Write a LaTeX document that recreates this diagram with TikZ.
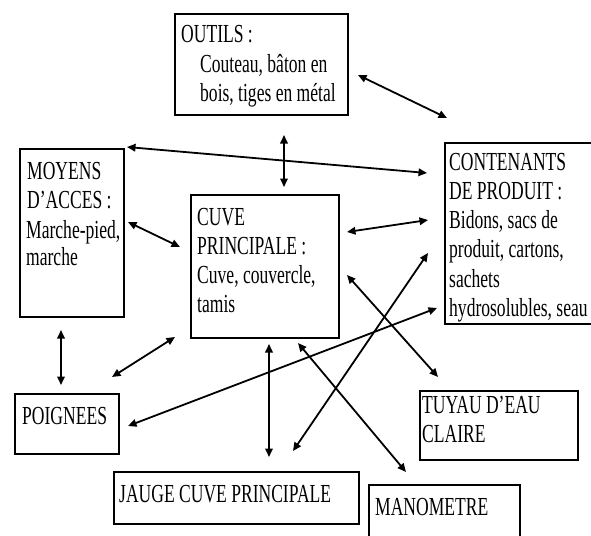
\documentclass[tikz,border=0pt]{standalone}
\usepackage{fontspec}
\setmainfont{Liberation Serif}[FakeStretch=0.675]
\usetikzlibrary{arrows.meta}
\begin{document}
\begin{tikzpicture}[x=1pt,y=-1pt,
  box/.style={draw=black,line width=1.6pt,rectangle,inner sep=0pt,anchor=north west},
  txt/.style={anchor=base west,inner sep=0pt,font=\fontsize{26}{29}\selectfont},
  arr/.style={line width=1.8pt,{Triangle[length=8.5pt,width=7.5pt]}-{Triangle[length=8.5pt,width=7.5pt]}}]
\useasboundingbox (0,0) rectangle (591,535);
\clip (0,0) rectangle (591,535);
\fill[white] (0,0) rectangle (591,535);
% boxes
\node[box,minimum width=173pt,minimum height=101pt] (outils) at (174,13) {};
\node[box,minimum width=104pt,minimum height=168pt] (moyens) at (19,148) {};
\node[box,minimum width=148pt,minimum height=143pt] (cuve) at (190,194) {};
\node[box,minimum width=147pt,minimum height=181pt] (cont) at (444,142) {};
\node[box,minimum width=104pt,minimum height=60pt] (poig) at (14,393) {};
\node[box,minimum width=245pt,minimum height=52pt] (jauge) at (113,471) {};
\node[box,minimum width=158pt,minimum height=69pt] (tuyau) at (419,390) {};
\node[box,minimum width=151pt,minimum height=80pt] (mano) at (368,484) {};
% texts
\node[txt] (t1) at (181,43) {OUTILS :};
\node[txt] (t2) at (200,72) {Couteau, bâton en};
\node[txt] (t3) at (200,101) {bois, tiges en métal};
\node[txt] (m1) at (27,179) {MOYENS};
\node[txt] (m2) at (27,208) {D’ACCES :};
\node[txt] (m3) at (26,238) {Marche-pied,};
\node[txt] (m4) at (26,265) {marche};
\node[txt] (c1) at (197,225) {CUVE};
\node[txt] (c2) at (197,254) {PRINCIPALE :};
\node[txt] (c3) at (197,283) {Cuve, couvercle,};
\node[txt] (c4) at (197,312) {tamis};
\node[txt] (k1) at (449,170) {CONTENANTS};
\node[txt] (k2) at (449,199) {DE PRODUIT :};
\node[txt] (k3) at (449,228) {Bidons, sacs de};
\node[txt] (k4) at (449,257) {produit, cartons,};
\node[txt] (k5) at (449,287) {sachets};
\node[txt] (k6) at (449,316) {hydrosolubles, seau};
\node[txt] (p1) at (22,424) {POIGNEES};
\node[txt] (j1) at (119,502) {JAUGE CUVE PRINCIPALE};
\node[txt] (u1) at (422,413) {TUYAU D’EAU};
\node[txt] (u2) at (422,442) {CLAIRE};
\node[txt] (n1) at (375,515) {MANOMETRE};
% connector end points
\coordinate (oA) at (358,75);   \coordinate (kA) at (447,118);
\coordinate (oB) at (284,135);  \coordinate (cB) at (284,187);
\coordinate (mC) at (127,147);  \coordinate (kC) at (427,173);
\coordinate (mD) at (128,222);  \coordinate (cD) at (180,247);
\coordinate (cE) at (347,232);  \coordinate (kE) at (428,220);
\coordinate (mF) at (61,330);   \coordinate (pF) at (61,385);
\coordinate (pG) at (112,377);  \coordinate (cG) at (175,337);
\coordinate (pH) at (128,426);  \coordinate (kH) at (437,308);
\coordinate (cI) at (269,344);  \coordinate (jI) at (269,457);
\coordinate (cJ) at (347,275);  \coordinate (uJ) at (438,377);
\coordinate (jK) at (293,451);  \coordinate (kK) at (428,253);
\coordinate (cL) at (298,343);  \coordinate (nL) at (406,472);
\draw[arr] (oA) -- (kA);
\draw[arr] (oB) -- (cB);
\draw[arr] (mC) -- (kC);
\draw[arr] (mD) -- (cD);
\draw[arr] (cE) -- (kE);
\draw[arr] (mF) -- (pF);
\draw[arr] (pG) -- (cG);
\draw[arr] (pH) -- (kH);
\draw[arr] (cI) -- (jI);
\draw[arr] (cJ) -- (uJ);
\draw[arr] (jK) -- (kK);
\draw[arr] (cL) -- (nL);
\end{tikzpicture}
\end{document}
